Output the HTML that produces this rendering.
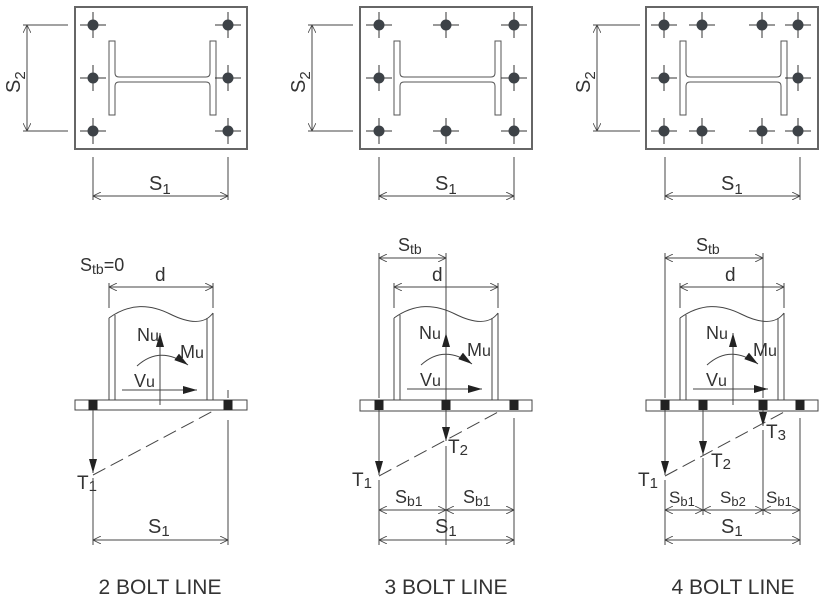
<!DOCTYPE html>
<html><head><meta charset="utf-8"><style>
html,body{margin:0;padding:0;background:#fff;}
svg{display:block;}
text{font-family:"Liberation Sans",sans-serif;fill:#333;}
</style></head><body>
<svg width="823" height="603" viewBox="0 0 823 603" xmlns="http://www.w3.org/2000/svg">
<defs>
<g id="bolt"><line x1="-13" y1="0" x2="13" y2="0" stroke="#333" stroke-width="1"/><line x1="0" y1="-13" x2="0" y2="13" stroke="#333" stroke-width="1"/><circle r="5.5" fill="#3d4247"/></g>
<g id="ibeam"><path d="M0,0 H6 V32 Q6,36 10,36 H97 Q101,36 101,32 V0 H107 V74 H101 V45 Q101,41 97,41 H10 Q6,41 6,45 V74 H0 Z" fill="#fff" stroke="#555" stroke-width="1"/></g>
<g id="bb"><rect x="-4.5" y="-5" width="9" height="10" fill="#222"/></g>
<marker id="ah" viewBox="0 0 14 10" refX="14" refY="5" markerWidth="14" markerHeight="10" markerUnits="userSpaceOnUse" orient="auto"><path d="M0,1 L14,5 L0,9 Z" fill="#222"/></marker>
<marker id="tk" viewBox="0 0 10 10" refX="10" refY="5" markerWidth="8" markerHeight="8" markerUnits="userSpaceOnUse" orient="auto-start-reverse"><path d="M0,0 L10,5 L0,10" fill="none" stroke="#444" stroke-width="1"/></marker>
</defs>
<g stroke="#444" stroke-width="1" fill="none">
<rect x="75" y="7" width="172" height="142" stroke="#666" stroke-width="2"/>
<rect x="360" y="7" width="172" height="142" stroke="#666" stroke-width="2"/>
<rect x="646" y="7" width="172" height="142" stroke="#666" stroke-width="2"/>
<line x1="23" y1="25" x2="68" y2="25"/><line x1="23" y1="131" x2="68" y2="131"/>
<line x1="27" y1="25" x2="27" y2="131" marker-start="url(#tk)" marker-end="url(#tk)"/>
<line x1="308" y1="25" x2="353" y2="25"/><line x1="308" y1="131" x2="353" y2="131"/>
<line x1="312" y1="25" x2="312" y2="131" marker-start="url(#tk)" marker-end="url(#tk)"/>
<line x1="593" y1="25" x2="640" y2="25"/><line x1="593" y1="131" x2="640" y2="131"/>
<line x1="597" y1="25" x2="597" y2="131" marker-start="url(#tk)" marker-end="url(#tk)"/>
<line x1="93" y1="157" x2="93" y2="200"/><line x1="228" y1="157" x2="228" y2="200"/>
<line x1="93" y1="196" x2="228" y2="196" marker-start="url(#tk)" marker-end="url(#tk)"/>
<line x1="379" y1="157" x2="379" y2="200"/><line x1="514" y1="157" x2="514" y2="200"/>
<line x1="379" y1="196" x2="514" y2="196" marker-start="url(#tk)" marker-end="url(#tk)"/>
<line x1="665" y1="157" x2="665" y2="200"/><line x1="800" y1="157" x2="800" y2="200"/>
<line x1="665" y1="196" x2="800" y2="196" marker-start="url(#tk)" marker-end="url(#tk)"/>
</g>
<use href="#ibeam" x="109" y="41"/>
<use href="#ibeam" x="394" y="41"/>
<use href="#ibeam" x="680" y="41"/>
<use href="#bolt" x="93" y="25"/><use href="#bolt" x="228" y="25"/>
<use href="#bolt" x="93" y="78"/><use href="#bolt" x="228" y="78"/>
<use href="#bolt" x="93" y="131"/><use href="#bolt" x="228" y="131"/>
<use href="#bolt" x="379" y="25"/><use href="#bolt" x="446" y="25"/><use href="#bolt" x="514" y="25"/>
<use href="#bolt" x="379" y="78"/><use href="#bolt" x="514" y="78"/>
<use href="#bolt" x="379" y="131"/><use href="#bolt" x="446" y="131"/><use href="#bolt" x="514" y="131"/>
<use href="#bolt" x="664" y="25"/><use href="#bolt" x="702" y="25"/><use href="#bolt" x="762" y="25"/><use href="#bolt" x="798" y="25"/>
<use href="#bolt" x="664" y="78"/><use href="#bolt" x="798" y="78"/>
<use href="#bolt" x="664" y="131"/><use href="#bolt" x="702" y="131"/><use href="#bolt" x="762" y="131"/><use href="#bolt" x="798" y="131"/>
<text x="0" y="0" font-size="20" transform="translate(20,93) rotate(-90)">S<tspan font-size="15" dy="5">2</tspan></text>
<text x="0" y="0" font-size="20" transform="translate(305,93) rotate(-90)">S<tspan font-size="15" dy="5">2</tspan></text>
<text x="0" y="0" font-size="20" transform="translate(590,93) rotate(-90)">S<tspan font-size="15" dy="5">2</tspan></text>
<text x="149" y="190" font-size="20">S<tspan font-size="15" dy="4">1</tspan></text>
<text x="435" y="190" font-size="20">S<tspan font-size="15" dy="4">1</tspan></text>
<text x="721" y="190" font-size="20">S<tspan font-size="15" dy="4">1</tspan></text>

<g stroke="#444" stroke-width="1" fill="none">
<line x1="109" y1="283" x2="109" y2="308"/><line x1="213" y1="283" x2="213" y2="308"/>
<line x1="109" y1="287" x2="213" y2="287" marker-start="url(#tk)" marker-end="url(#tk)"/>
<path d="M109,318 C130,303 150,304 170,314 C190,324 205,324 213,313"/>
<line x1="109" y1="318" x2="109" y2="400"/><line x1="115" y1="315" x2="115" y2="400"/>
<line x1="207" y1="318" x2="207" y2="400"/><line x1="213" y1="313" x2="213" y2="400"/>
<rect x="75" y="400" width="172" height="10" fill="#fff"/>
<line x1="93" y1="405" x2="93" y2="473" marker-end="url(#ah)"/>
<line x1="93" y1="478" x2="93" y2="490"/>
<line x1="228" y1="390" x2="228" y2="398"/>
<line x1="228" y1="420" x2="228" y2="545"/>
<line x1="93" y1="475" x2="215" y2="410" stroke-dasharray="14,6"/>
<line x1="93" y1="490" x2="93" y2="545"/>
<line x1="93" y1="540" x2="228" y2="540" marker-start="url(#tk)" marker-end="url(#tk)"/>
<line x1="160" y1="405" x2="160" y2="333" marker-end="url(#ah)"/>
<line x1="122" y1="390" x2="197" y2="390" marker-end="url(#ah)"/>
<path d="M137,366 Q160,345 188,365" marker-end="url(#ah)"/>
</g>
<use href="#bb" x="93" y="405"/><use href="#bb" x="228" y="405"/>
<text x="80" y="271" font-size="18">S<tspan font-size="14" dy="3">tb</tspan><tspan dy="-3">=0</tspan></text>
<text x="155" y="281" font-size="19">d</text>
<text x="137" y="341" font-size="18">N<tspan font-size="16">u</tspan></text>
<text x="180" y="358" font-size="18">M<tspan font-size="16">u</tspan></text>
<text x="134" y="387" font-size="18">V<tspan font-size="16">u</tspan></text>
<text x="77" y="489" font-size="19">T<tspan font-size="15" dy="2">1</tspan></text>
<text x="148" y="533" font-size="20">S<tspan font-size="15" dy="3">1</tspan></text>

<g stroke="#444" stroke-width="1" fill="none">
<line x1="379" y1="253" x2="379" y2="398"/><line x1="446" y1="253" x2="446" y2="333"/>
<line x1="379" y1="258" x2="446" y2="258" marker-start="url(#tk)" marker-end="url(#tk)"/>
<line x1="394" y1="283" x2="394" y2="308"/><line x1="498" y1="283" x2="498" y2="308"/>
<line x1="394" y1="287" x2="498" y2="287" marker-start="url(#tk)" marker-end="url(#tk)"/>
<path d="M394,318 C415,303 435,304 455,314 C475,324 490,324 498,313"/>
<line x1="394" y1="318" x2="394" y2="400"/><line x1="400" y1="315" x2="400" y2="400"/>
<line x1="492" y1="318" x2="492" y2="400"/><line x1="498" y1="313" x2="498" y2="400"/>
<rect x="360" y="400" width="172" height="11" fill="#fff"/>
<line x1="379" y1="405" x2="379" y2="475" marker-end="url(#ah)"/>
<line x1="379" y1="480" x2="379" y2="545"/>
<line x1="446" y1="405" x2="446" y2="441" marker-end="url(#ah)"/>
<line x1="446" y1="446" x2="446" y2="545"/>
<line x1="514" y1="418" x2="514" y2="545"/>
<line x1="379" y1="476" x2="500" y2="411" stroke-dasharray="14,6"/>
<line x1="379" y1="510" x2="446" y2="510" marker-start="url(#tk)" marker-end="url(#tk)"/>
<line x1="446" y1="510" x2="514" y2="510" marker-start="url(#tk)" marker-end="url(#tk)"/>
<line x1="379" y1="540" x2="514" y2="540" marker-start="url(#tk)" marker-end="url(#tk)"/>
<line x1="446" y1="405" x2="446" y2="333" marker-end="url(#ah)"/>
<line x1="407" y1="389" x2="482" y2="389" marker-end="url(#ah)"/>
<path d="M421,365 Q444,344 472,364" marker-end="url(#ah)"/>
</g>
<use href="#bb" x="379" y="405"/><use href="#bb" x="446" y="405"/><use href="#bb" x="514" y="405"/>
<text x="398" y="251" font-size="18">S<tspan font-size="14" dy="3">tb</tspan></text>
<text x="432" y="281" font-size="19">d</text>
<text x="419" y="339" font-size="18">N<tspan font-size="16">u</tspan></text>
<text x="467" y="356" font-size="18">M<tspan font-size="16">u</tspan></text>
<text x="420" y="386" font-size="18">V<tspan font-size="16">u</tspan></text>
<text x="448" y="453" font-size="19">T<tspan font-size="15" dy="2">2</tspan></text>
<text x="352" y="486" font-size="19">T<tspan font-size="15" dy="2">1</tspan></text>
<text x="395" y="503" font-size="18">S<tspan font-size="14" dy="3">b1</tspan></text>
<text x="463" y="503" font-size="18">S<tspan font-size="14" dy="3">b1</tspan></text>
<text x="435" y="533" font-size="20">S<tspan font-size="15" dy="3">1</tspan></text>

<g stroke="#444" stroke-width="1" fill="none">
<line x1="665" y1="253" x2="665" y2="398"/><line x1="763" y1="253" x2="763" y2="398"/>
<line x1="665" y1="258" x2="763" y2="258" marker-start="url(#tk)" marker-end="url(#tk)"/>
<line x1="680" y1="283" x2="680" y2="308"/><line x1="784" y1="283" x2="784" y2="308"/>
<line x1="680" y1="287" x2="784" y2="287" marker-start="url(#tk)" marker-end="url(#tk)"/>
<path d="M680,318 C701,303 721,304 741,314 C761,324 776,324 784,313"/>
<line x1="680" y1="318" x2="680" y2="400"/><line x1="686" y1="315" x2="686" y2="400"/>
<line x1="778" y1="318" x2="778" y2="400"/><line x1="784" y1="313" x2="784" y2="400"/>
<rect x="646" y="400" width="172" height="11" fill="#fff"/>
<line x1="665" y1="405" x2="665" y2="475" marker-end="url(#ah)"/>
<line x1="665" y1="480" x2="665" y2="545"/>
<line x1="703" y1="405" x2="703" y2="455" marker-end="url(#ah)"/>
<line x1="703" y1="458" x2="703" y2="515"/>
<line x1="763" y1="405" x2="763" y2="426" marker-end="url(#ah)"/>
<line x1="763" y1="430" x2="763" y2="515"/>
<line x1="800" y1="418" x2="800" y2="545"/>
<line x1="665" y1="476" x2="786" y2="411" stroke-dasharray="14,6"/>
<line x1="665" y1="510" x2="703" y2="510" marker-start="url(#tk)" marker-end="url(#tk)"/>
<line x1="703" y1="510" x2="763" y2="510" marker-start="url(#tk)" marker-end="url(#tk)"/>
<line x1="763" y1="510" x2="800" y2="510" marker-start="url(#tk)" marker-end="url(#tk)"/>
<line x1="665" y1="540" x2="800" y2="540" marker-start="url(#tk)" marker-end="url(#tk)"/>
<line x1="733" y1="405" x2="733" y2="333" marker-end="url(#ah)"/>
<line x1="693" y1="389" x2="768" y2="389" marker-end="url(#ah)"/>
<path d="M707,365 Q730,344 758,364" marker-end="url(#ah)"/>
</g>
<use href="#bb" x="665" y="405"/><use href="#bb" x="703" y="405"/><use href="#bb" x="763" y="405"/><use href="#bb" x="800" y="405"/>
<text x="696" y="251" font-size="18">S<tspan font-size="14" dy="3">tb</tspan></text>
<text x="725" y="281" font-size="19">d</text>
<text x="706" y="339" font-size="18">N<tspan font-size="16">u</tspan></text>
<text x="753" y="356" font-size="18">M<tspan font-size="16">u</tspan></text>
<text x="706" y="386" font-size="18">V<tspan font-size="16">u</tspan></text>
<text x="766" y="438" font-size="19">T<tspan font-size="15" dy="2">3</tspan></text>
<text x="711" y="467" font-size="19">T<tspan font-size="15" dy="2">2</tspan></text>
<text x="638" y="486" font-size="19">T<tspan font-size="15" dy="2">1</tspan></text>
<text x="669" y="503" font-size="17">S<tspan font-size="13" dy="3">b1</tspan></text>
<text x="720" y="503" font-size="17">S<tspan font-size="13" dy="3">b2</tspan></text>
<text x="766" y="503" font-size="17">S<tspan font-size="13" dy="3">b1</tspan></text>
<text x="721" y="533" font-size="20">S<tspan font-size="15" dy="3">1</tspan></text>

<text x="160" y="594" font-size="21" text-anchor="middle">2 BOLT LINE</text>
<text x="446" y="594" font-size="21" text-anchor="middle">3 BOLT LINE</text>
<text x="733" y="594" font-size="21" text-anchor="middle">4 BOLT LINE</text>
</svg>
</body></html>
